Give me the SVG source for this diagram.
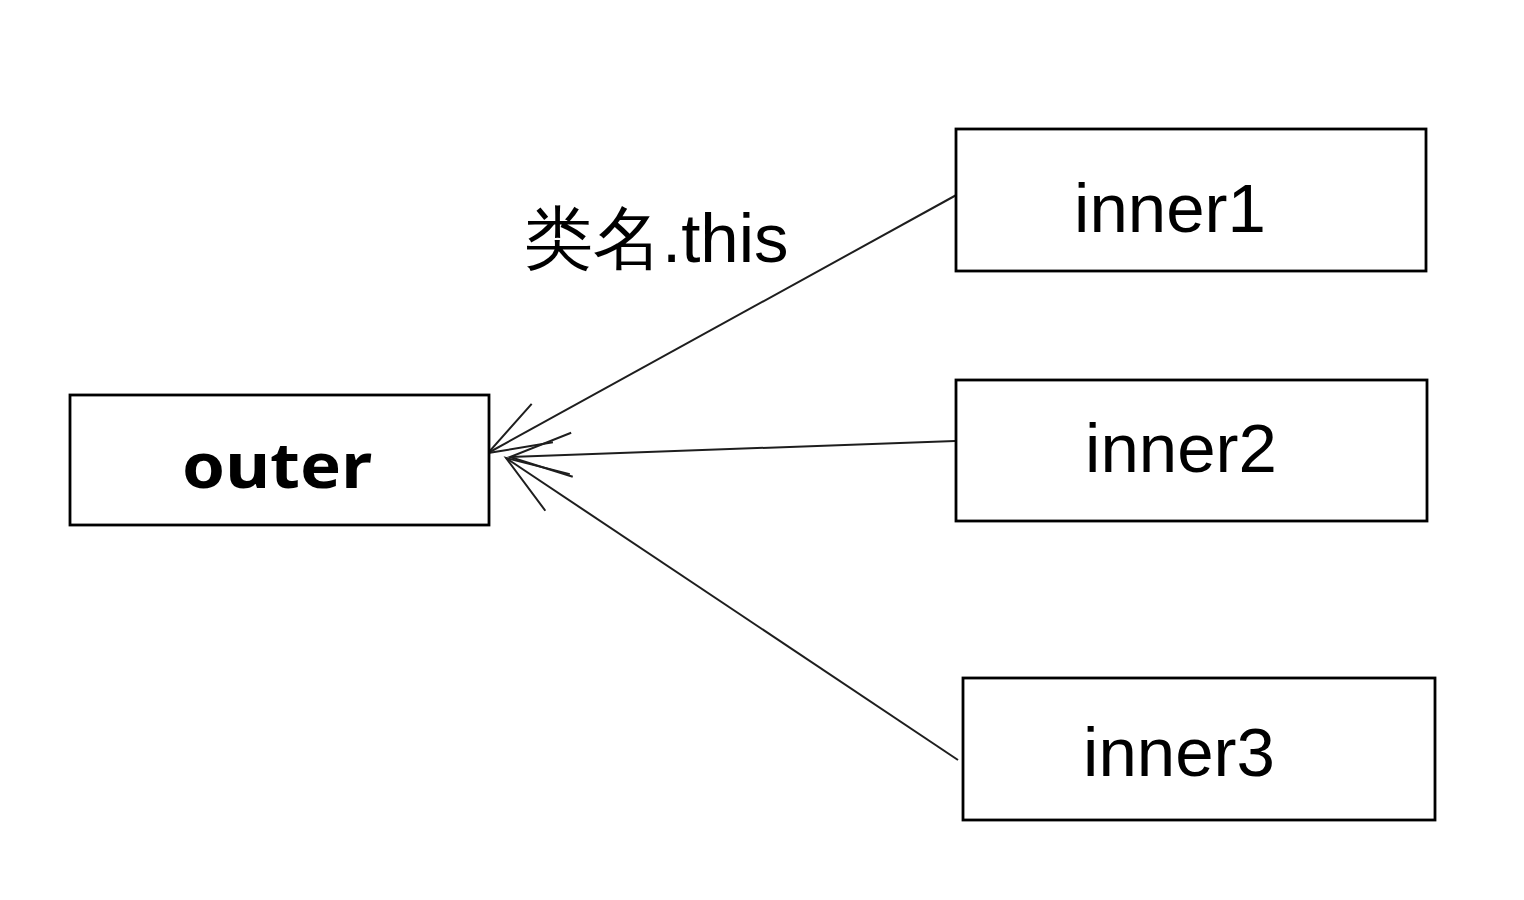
<svg xmlns="http://www.w3.org/2000/svg" width="1524" height="900" viewBox="0 0 1524 900">
<style>
.box{fill:#fff;stroke:#000;stroke-width:2.8}
.lbl{font-family:"Liberation Sans",Arial,sans-serif;font-size:69px;fill:#000}
.hand{font-family:"Noto Sans","Liberation Sans",sans-serif;font-size:62px;font-weight:bold;fill:#000}
.edge{stroke:#1e1e1e;stroke-width:2;fill:none}
</style>
<defs>
<marker id="arr" markerUnits="userSpaceOnUse" markerWidth="90" markerHeight="60" viewBox="-70 -30 80 60" refX="0" refY="0" orient="auto" overflow="visible">
<path d="M -62 -22 L 0 0 L -62 22" fill="none" stroke="#1e1e1e" stroke-width="2"/>
</marker>
</defs>
<rect width="1524" height="900" fill="#fff"/>
<g id="connectors">
<line class="edge" x1="960" y1="193" x2="488" y2="453" marker-end="url(#arr)"/>
<line class="edge" x1="955" y1="441" x2="510" y2="457" marker-end="url(#arr)"/>
<line class="edge" x1="958" y1="760" x2="506" y2="458" marker-end="url(#arr)"/>
</g>
<g id="outer">
<rect class="box" x="70" y="395" width="419" height="130"/>
<text class="hand" x="277" y="488" text-anchor="middle" textLength="190" lengthAdjust="spacingAndGlyphs">outer</text>
</g>
<g id="inner1">
<rect class="box" x="956" y="129" width="470" height="142"/>
<text class="lbl" x="1170" y="232" text-anchor="middle">inner1</text>
</g>
<g id="inner2">
<rect class="box" x="956" y="380" width="471" height="141"/>
<text class="lbl" x="1181" y="472" text-anchor="middle">inner2</text>
</g>
<g id="inner3">
<rect class="box" x="963" y="678" width="472" height="142"/>
<text class="lbl" x="1179" y="776" text-anchor="middle">inner3</text>
</g>
<g id="label">
<text class="lbl" x="524" y="262" font-size="72" font-family="'Liberation Sans','Noto Sans CJK SC',sans-serif">类名.this</text>
</g>
</svg>
